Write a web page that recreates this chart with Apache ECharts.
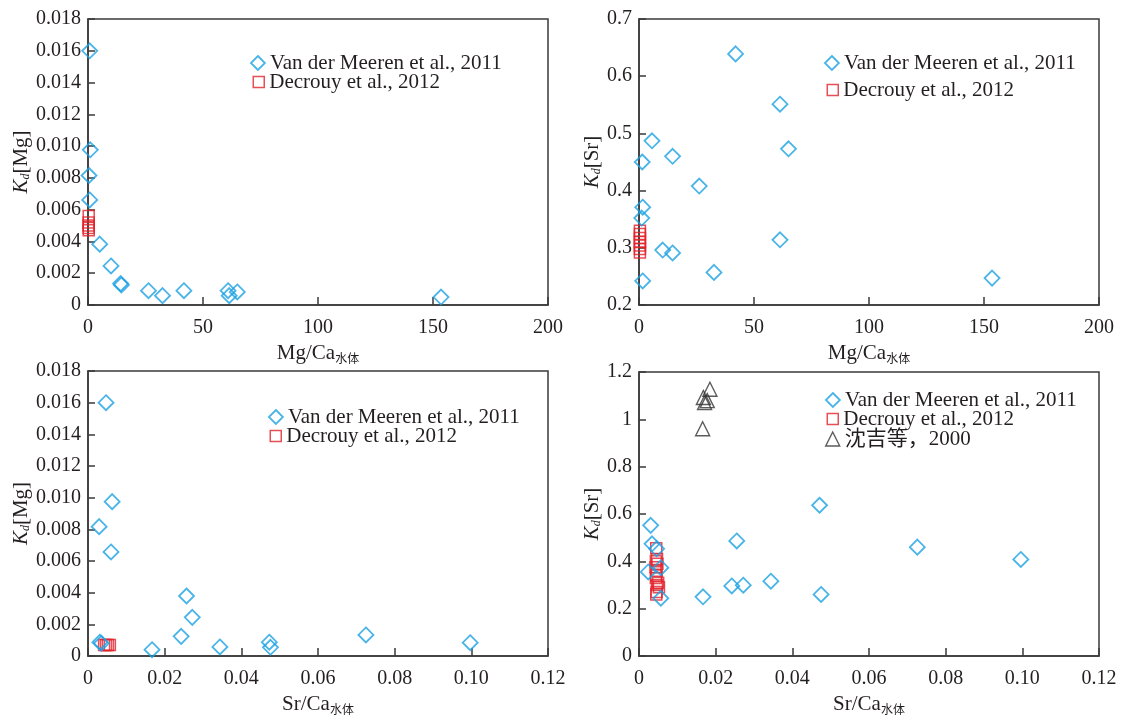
<!DOCTYPE html>
<html>
<head>
<meta charset="utf-8">
<script src="https://cdn.jsdelivr.net/npm/echarts@6/dist/echarts.min.js"></script>
<style>
html,body{margin:0;padding:0;background:#fff;}
#chart{width:1125px;height:716px;}
</style>
</head>
<body>
<div id="chart"></div>
<script>
// ---- Data ----
const seriesNames = ['Van der Meeren et al., 2011', 'Decrouy et al., 2012', '沈吉等，2000'];

// Panel 1: Kd[Mg] vs Mg/Ca
const p1VanX = [0.75, 1.0, 0.45, 0.75, 5.1, 10.0, 14.2, 14.5, 26.3, 32.4, 41.7, 60.9, 61.4, 64.9, 153.5];
const p1VanY = [0.0160, 0.00977, 0.00815, 0.00661, 0.00383, 0.00246, 0.00135, 0.00126, 0.0009, 0.00059, 0.0009, 0.0009, 0.00059, 0.00082, 0.0005];
const p1DecX = [0.3, 0.3, 0.3, 0.3, 0.3];
const p1DecY = [0.0056, 0.0052, 0.0050, 0.00485, 0.0047];

// Panel 2: Kd[Sr] vs Mg/Ca
const p2VanX = [42, 61.3, 5.65, 1.4, 14.6, 65, 26.2, 1.6, 1.2, 10.3, 14.6, 61.3, 32.6, 1.6, 153.5];
const p2VanY = [0.639, 0.551, 0.487, 0.45, 0.46, 0.473, 0.408, 0.371, 0.352, 0.296, 0.291, 0.314, 0.257, 0.242, 0.247];
const p2DecX = [0.4, 0.4, 0.4, 0.4, 0.4, 0.4, 0.4];
const p2DecY = [0.330, 0.324, 0.317, 0.310, 0.304, 0.298, 0.292];

// Panel 3: Kd[Mg] vs Sr/Ca
const p3VanX = [0.0047, 0.0063, 0.0029, 0.006, 0.0257, 0.0272, 0.0243, 0.0167, 0.0344, 0.0473, 0.0476, 0.0031, 0.0035, 0.0725, 0.0997];
const p3VanY = [0.0160, 0.00975, 0.00817, 0.00657, 0.00379, 0.00244, 0.00124, 0.0004, 0.00057, 0.00087, 0.00055, 0.00087, 0.0008, 0.00133, 0.00084];
const p3DecX = [0.0042, 0.0047, 0.0052, 0.0057];
const p3DecY = [0.0007, 0.0007, 0.0007, 0.0007];

// Panel 4: Kd[Sr] vs Sr/Ca
const p4VanX = [0.00304, 0.0034, 0.0046, 0.0024, 0.0057, 0.0057, 0.0167, 0.0255, 0.0242, 0.0272, 0.0344, 0.0471, 0.0475, 0.0726, 0.0996];
const p4VanY = [0.552, 0.474, 0.453, 0.355, 0.373, 0.244, 0.25, 0.486, 0.296, 0.299, 0.316, 0.637, 0.26, 0.46, 0.408];
const p4DecX = [0.0045, 0.0047, 0.0044, 0.0048, 0.0043, 0.0046, 0.0045, 0.0044, 0.0050, 0.0047, 0.0052, 0.0046, 0.0045];
const p4DecY = [0.455, 0.41, 0.40, 0.39, 0.375, 0.36, 0.34, 0.33, 0.31, 0.30, 0.29, 0.27, 0.26];
const p4ShenX = [0.0185, 0.0168, 0.0178, 0.0171, 0.0166];
const p4ShenY = [1.127, 1.092, 1.079, 1.071, 0.96];

// ---- Styles ----
const BLUE = '#1ba1e2';
const RED = '#e2222c';
const DARK = '#333333';
const AXIS = '#3a3a3a';
const TXT = '#231f20';
const SERIF = '"Liberation Serif", "Times New Roman", serif';
const CJK = '"Noto Sans CJK SC", sans-serif';

const pair = (xs, ys) => xs.map((x, i) => [x, ys[i]]);

const grids = [
  {left: 88, top: 19, width: 460, height: 286},
  {left: 639, top: 19, width: 460, height: 286},
  {left: 88, top: 371, width: 460, height: 285},
  {left: 639, top: 372, width: 460, height: 285}
].map(g => Object.assign(g, {show: true, borderColor: AXIS, borderWidth: 1.5, backgroundColor: 'transparent'}));

const nameRich = {
  n: {fontFamily: SERIF, fontSize: 21, color: TXT, lineHeight: 26, verticalAlign: 'bottom'},
  i: {fontFamily: SERIF, fontSize: 21, fontStyle: 'italic', color: TXT, lineHeight: 26, verticalAlign: 'bottom'},
  si: {fontFamily: SERIF, fontSize: 12, fontStyle: 'italic', color: TXT, lineHeight: 12, verticalAlign: 'bottom'},
  sc: {fontFamily: CJK, fontSize: 12, color: TXT, lineHeight: 12, verticalAlign: 'bottom'}
};

function xAxisCfg(gi, min, max, interval, fmt, name) {
  return {
    type: 'value', gridIndex: gi, min: min, max: max, interval: interval,
    name: name, nameLocation: 'middle', nameGap: 33,
    nameTextStyle: {rich: nameRich},
    axisLine: {show: true, lineStyle: {color: AXIS, width: 1.5}},
    axisTick: {show: true, inside: true, length: 8, lineStyle: {color: AXIS, width: 1.5}},
    axisLabel: {color: TXT, fontFamily: SERIF, fontSize: 20, margin: 13, formatter: fmt},
    splitLine: {show: false}
  };
}
function yAxisCfg(gi, min, max, interval, fmt, name, gap) {
  return {
    type: 'value', gridIndex: gi, min: min, max: max, interval: interval,
    name: name, nameLocation: 'middle', nameGap: gap, nameRotate: 90,
    nameTextStyle: {rich: nameRich},
    axisLine: {show: true, lineStyle: {color: AXIS, width: 1.5}},
    axisTick: {show: true, inside: true, length: 7, lineStyle: {color: AXIS, width: 1.5}},
    axisLabel: {color: TXT, fontFamily: SERIF, fontSize: 20, margin: 7, formatter: fmt},
    splitLine: {show: false}
  };
}

const f3 = v => (Math.abs(v) < 1e-12 ? '0' : v.toFixed(3));
const f2 = v => (Math.abs(v) < 1e-12 ? '0' : v.toFixed(2));
const f1 = v => (Math.abs(v) < 1e-12 ? '0' : String(+v.toFixed(1)));
const f0 = v => String(Math.round(v));

const mgName = '{n|Mg/Ca}{sc|水体}';
const srName = '{n|Sr/Ca}{sc|水体}';
const kMg = '{i|K}{si|d}{n|[Mg]}';
const kSr = '{i|K}{si|d}{n|[Sr]}';

const diamondStyle = {color: 'rgba(255,255,255,0)', borderColor: BLUE, borderWidth: 1.8};
const squareStyle = {color: 'rgba(255,255,255,0)', borderColor: RED, borderWidth: 1.5};
const triStyle = {color: 'rgba(255,255,255,0)', borderColor: DARK, borderWidth: 1.4};

function van(gi, data) {
  return {name: seriesNames[0], type: 'scatter', xAxisIndex: gi, yAxisIndex: gi, data: data,
    symbol: 'diamond', symbolSize: 15, itemStyle: diamondStyle, clip: false, z: 3};
}
function dec(gi, data) {
  return {name: seriesNames[1], type: 'scatter', xAxisIndex: gi, yAxisIndex: gi, data: data,
    symbol: 'rect', symbolSize: 11, itemStyle: squareStyle, clip: false, z: 2};
}
function shen(gi, data) {
  return {name: seriesNames[2], type: 'scatter', xAxisIndex: gi, yAxisIndex: gi, data: data,
    symbol: 'triangle', symbolSize: 14, itemStyle: triStyle, clip: false, z: 2};
}

// one legend component per entry so every icon keeps its own size
const iconDefs = [
  {icon: 'diamond', size: 14, style: diamondStyle},
  {icon: 'rect', size: 11, style: squareStyle},
  {icon: 'triangle', size: 14, style: triStyle}
];
function legendEntry(k, cx, cy) {
  const d = iconDefs[k];
  return {
    left: cx - d.size / 2, top: cy - 11, padding: 0, orient: 'vertical',
    itemWidth: d.size, itemHeight: d.size, selectedMode: false,
    data: [{name: seriesNames[k], icon: d.icon, itemStyle: d.style}],
    textStyle: {fontFamily: SERIF + ', ' + CJK, fontSize: 21, color: TXT, lineHeight: 22}
  };
}

const option = {
  animation: false,
  backgroundColor: '#ffffff',
  grid: grids,
  legend: [
    legendEntry(0, 257, 63), legendEntry(1, 258, 82),
    legendEntry(0, 831, 63), legendEntry(1, 832, 90),
    legendEntry(0, 275, 417), legendEntry(1, 275, 436),
    legendEntry(0, 832, 400), legendEntry(1, 832, 419), legendEntry(2, 832, 439)
  ],
  xAxis: [
    xAxisCfg(0, 0, 200, 50, f0, mgName),
    xAxisCfg(1, 0, 200, 50, f0, mgName),
    xAxisCfg(2, 0, 0.12, 0.02, f2, srName),
    xAxisCfg(3, 0, 0.12, 0.02, f2, srName)
  ],
  yAxis: [
    yAxisCfg(0, 0, 0.018, 0.002, f3, kMg, 54),
    yAxisCfg(1, 0.2, 0.7, 0.1, f1, kSr, 24),
    yAxisCfg(2, 0, 0.018, 0.002, f3, kMg, 54),
    yAxisCfg(3, 0, 1.2, 0.2, f1, kSr, 24)
  ],
  series: [
    dec(0, pair(p1DecX, p1DecY)), van(0, pair(p1VanX, p1VanY)),
    dec(1, pair(p2DecX, p2DecY)), van(1, pair(p2VanX, p2VanY)),
    dec(2, pair(p3DecX, p3DecY)), van(2, pair(p3VanX, p3VanY)),
    dec(3, pair(p4DecX, p4DecY)), van(3, pair(p4VanX, p4VanY)), shen(3, pair(p4ShenX, p4ShenY))
  ]
};

const chart = echarts.init(document.getElementById('chart'), null, {renderer: 'canvas'});
chart.setOption(option);
</script>
</body>
</html>
